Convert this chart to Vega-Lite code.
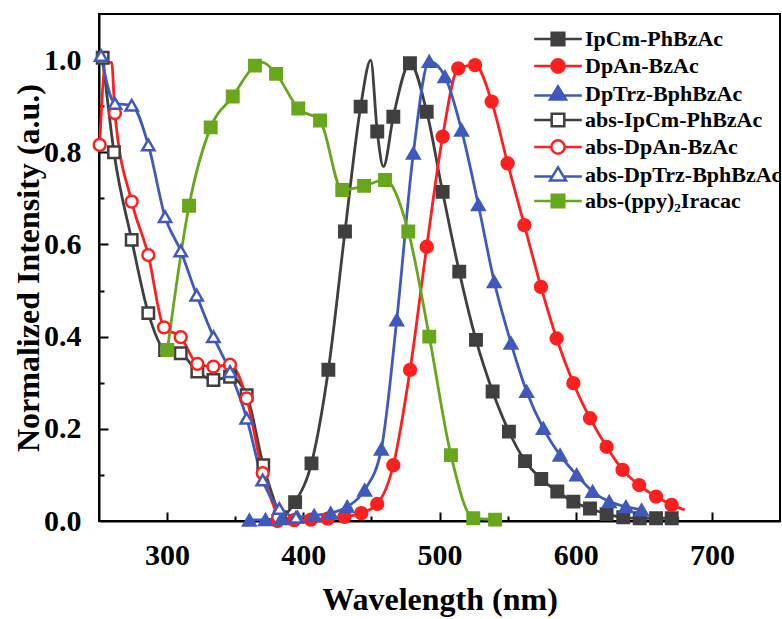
{
  "$schema": "https://vega.github.io/schema/vega-lite/v6.json",
  "width": 681,
  "height": 507,
  "autosize": {"type": "none"},
  "padding": {"left": 99, "top": 14, "right": 2, "bottom": 98},
  "background": "white",
  "config": {
    "font": "Liberation Serif",
    "view": {"stroke": "black", "strokeWidth": 2},
    "axis": {
      "grid": false,
      "domainColor": "black",
      "domainWidth": 2,
      "tickColor": "black",
      "tickWidth": 2,
      "labelFont": "Liberation Serif",
      "labelFontWeight": "bold",
      "labelFontSize": 30,
      "labelColor": "black",
      "titleFont": "Liberation Serif",
      "titleFontWeight": "bold",
      "titleFontSize": 32,
      "titleColor": "black"
    }
  },
  "resolve": {"axis": {"x": "independent", "y": "independent"}},
  "data": {
    "values": [
      {"s": "IpCm-PhBzAc", "x": 385, "y": 0.008, "m": 0},
      {"s": "IpCm-PhBzAc", "x": 394, "y": 0.041, "m": 1},
      {"s": "IpCm-PhBzAc", "x": 406, "y": 0.125, "m": 1},
      {"s": "IpCm-PhBzAc", "x": 418.4, "y": 0.328, "m": 1},
      {"s": "IpCm-PhBzAc", "x": 430.6, "y": 0.628, "m": 1},
      {"s": "IpCm-PhBzAc", "x": 442.1, "y": 0.899, "m": 1},
      {"s": "IpCm-PhBzAc", "x": 449.5, "y": 1.0, "m": 0},
      {"s": "IpCm-PhBzAc", "x": 454.3, "y": 0.845, "m": 1},
      {"s": "IpCm-PhBzAc", "x": 458.8, "y": 0.769, "m": 0},
      {"s": "IpCm-PhBzAc", "x": 466.1, "y": 0.877, "m": 1},
      {"s": "IpCm-PhBzAc", "x": 478.3, "y": 0.993, "m": 1},
      {"s": "IpCm-PhBzAc", "x": 490.6, "y": 0.888, "m": 1},
      {"s": "IpCm-PhBzAc", "x": 502.3, "y": 0.714, "m": 1},
      {"s": "IpCm-PhBzAc", "x": 514.5, "y": 0.541, "m": 1},
      {"s": "IpCm-PhBzAc", "x": 526.8, "y": 0.393, "m": 1},
      {"s": "IpCm-PhBzAc", "x": 539, "y": 0.281, "m": 1},
      {"s": "IpCm-PhBzAc", "x": 551, "y": 0.194, "m": 1},
      {"s": "IpCm-PhBzAc", "x": 562.8, "y": 0.13, "m": 1},
      {"s": "IpCm-PhBzAc", "x": 574.7, "y": 0.091, "m": 1},
      {"s": "IpCm-PhBzAc", "x": 586.5, "y": 0.064, "m": 1},
      {"s": "IpCm-PhBzAc", "x": 598.3, "y": 0.042, "m": 1},
      {"s": "IpCm-PhBzAc", "x": 610.5, "y": 0.027, "m": 1},
      {"s": "IpCm-PhBzAc", "x": 622.7, "y": 0.015, "m": 1},
      {"s": "IpCm-PhBzAc", "x": 634.9, "y": 0.008, "m": 1},
      {"s": "IpCm-PhBzAc", "x": 647, "y": 0.006, "m": 1},
      {"s": "IpCm-PhBzAc", "x": 659, "y": 0.006, "m": 1},
      {"s": "IpCm-PhBzAc", "x": 670.5, "y": 0.006, "m": 1},
      {"s": "IpCm-PhBzAc", "x": 676, "y": 0.005, "m": 0},

      {"s": "DpAn-BzAc", "x": 381, "y": 0.0, "m": 1},
      {"s": "DpAn-BzAc", "x": 393.3, "y": 0.002, "m": 1},
      {"s": "DpAn-BzAc", "x": 405.6, "y": 0.003, "m": 1},
      {"s": "DpAn-BzAc", "x": 417.9, "y": 0.005, "m": 1},
      {"s": "DpAn-BzAc", "x": 430.2, "y": 0.009, "m": 1},
      {"s": "DpAn-BzAc", "x": 442.6, "y": 0.017, "m": 1},
      {"s": "DpAn-BzAc", "x": 454.3, "y": 0.037, "m": 1},
      {"s": "DpAn-BzAc", "x": 466.1, "y": 0.121, "m": 1},
      {"s": "DpAn-BzAc", "x": 478.4, "y": 0.328, "m": 1},
      {"s": "DpAn-BzAc", "x": 490.6, "y": 0.595, "m": 1},
      {"s": "DpAn-BzAc", "x": 502.3, "y": 0.834, "m": 1},
      {"s": "DpAn-BzAc", "x": 513.8, "y": 0.982, "m": 1},
      {"s": "DpAn-BzAc", "x": 526.1, "y": 0.989, "m": 1},
      {"s": "DpAn-BzAc", "x": 538.3, "y": 0.91, "m": 1},
      {"s": "DpAn-BzAc", "x": 550, "y": 0.776, "m": 1},
      {"s": "DpAn-BzAc", "x": 562.3, "y": 0.642, "m": 1},
      {"s": "DpAn-BzAc", "x": 574.5, "y": 0.508, "m": 1},
      {"s": "DpAn-BzAc", "x": 586, "y": 0.396, "m": 1},
      {"s": "DpAn-BzAc", "x": 598.3, "y": 0.299, "m": 1},
      {"s": "DpAn-BzAc", "x": 610.5, "y": 0.223, "m": 1},
      {"s": "DpAn-BzAc", "x": 622.7, "y": 0.161, "m": 1},
      {"s": "DpAn-BzAc", "x": 634.4, "y": 0.111, "m": 1},
      {"s": "DpAn-BzAc", "x": 646.6, "y": 0.078, "m": 1},
      {"s": "DpAn-BzAc", "x": 659, "y": 0.053, "m": 1},
      {"s": "DpAn-BzAc", "x": 670.4, "y": 0.035, "m": 1},
      {"s": "DpAn-BzAc", "x": 680, "y": 0.024, "m": 0},

      {"s": "DpTrz-BphBzAc", "x": 360.4, "y": 0.002, "m": 1},
      {"s": "DpTrz-BphBzAc", "x": 372.2, "y": 0.003, "m": 1},
      {"s": "DpTrz-BphBzAc", "x": 384, "y": 0.005, "m": 1},
      {"s": "DpTrz-BphBzAc", "x": 395.8, "y": 0.008, "m": 1},
      {"s": "DpTrz-BphBzAc", "x": 408, "y": 0.012, "m": 1},
      {"s": "DpTrz-BphBzAc", "x": 420.1, "y": 0.017, "m": 1},
      {"s": "DpTrz-BphBzAc", "x": 432.3, "y": 0.031, "m": 1},
      {"s": "DpTrz-BphBzAc", "x": 445, "y": 0.067, "m": 1},
      {"s": "DpTrz-BphBzAc", "x": 457.3, "y": 0.156, "m": 1},
      {"s": "DpTrz-BphBzAc", "x": 468.6, "y": 0.436, "m": 1},
      {"s": "DpTrz-BphBzAc", "x": 480.8, "y": 0.798, "m": 1},
      {"s": "DpTrz-BphBzAc", "x": 492.5, "y": 0.997, "m": 1},
      {"s": "DpTrz-BphBzAc", "x": 504, "y": 0.964, "m": 1},
      {"s": "DpTrz-BphBzAc", "x": 516.2, "y": 0.848, "m": 1},
      {"s": "DpTrz-BphBzAc", "x": 528.5, "y": 0.686, "m": 1},
      {"s": "DpTrz-BphBzAc", "x": 540.2, "y": 0.519, "m": 1},
      {"s": "DpTrz-BphBzAc", "x": 552.5, "y": 0.386, "m": 1},
      {"s": "DpTrz-BphBzAc", "x": 564, "y": 0.281, "m": 1},
      {"s": "DpTrz-BphBzAc", "x": 576.2, "y": 0.201, "m": 1},
      {"s": "DpTrz-BphBzAc", "x": 588.5, "y": 0.143, "m": 1},
      {"s": "DpTrz-BphBzAc", "x": 600.7, "y": 0.1, "m": 1},
      {"s": "DpTrz-BphBzAc", "x": 612.4, "y": 0.064, "m": 1},
      {"s": "DpTrz-BphBzAc", "x": 624.6, "y": 0.042, "m": 1},
      {"s": "DpTrz-BphBzAc", "x": 636.9, "y": 0.031, "m": 1},
      {"s": "DpTrz-BphBzAc", "x": 648.4, "y": 0.024, "m": 1},

      {"s": "abs-IpCm-PhBzAc", "x": 252.7, "y": 1.005, "m": 1},
      {"s": "abs-IpCm-PhBzAc", "x": 261, "y": 0.8, "m": 1},
      {"s": "abs-IpCm-PhBzAc", "x": 274, "y": 0.61, "m": 1},
      {"s": "abs-IpCm-PhBzAc", "x": 286.2, "y": 0.451, "m": 1},
      {"s": "abs-IpCm-PhBzAc", "x": 298.5, "y": 0.371, "m": 1},
      {"s": "abs-IpCm-PhBzAc", "x": 310, "y": 0.364, "m": 1},
      {"s": "abs-IpCm-PhBzAc", "x": 322.2, "y": 0.324, "m": 1},
      {"s": "abs-IpCm-PhBzAc", "x": 334, "y": 0.306, "m": 1},
      {"s": "abs-IpCm-PhBzAc", "x": 346.2, "y": 0.313, "m": 1},
      {"s": "abs-IpCm-PhBzAc", "x": 358.4, "y": 0.273, "m": 1},
      {"s": "abs-IpCm-PhBzAc", "x": 370.6, "y": 0.121, "m": 1},
      {"s": "abs-IpCm-PhBzAc", "x": 382.8, "y": 0.008, "m": 1},

      {"s": "abs-DpAn-BzAc", "x": 250.5, "y": 0.816, "m": 1},
      {"s": "abs-DpAn-BzAc", "x": 255, "y": 0.995, "m": 0},
      {"s": "abs-DpAn-BzAc", "x": 259.3, "y": 0.995, "m": 0},
      {"s": "abs-DpAn-BzAc", "x": 261.7, "y": 0.885, "m": 1},
      {"s": "abs-DpAn-BzAc", "x": 274, "y": 0.693, "m": 1},
      {"s": "abs-DpAn-BzAc", "x": 286.2, "y": 0.577, "m": 1},
      {"s": "abs-DpAn-BzAc", "x": 297.7, "y": 0.42, "m": 1},
      {"s": "abs-DpAn-BzAc", "x": 310, "y": 0.399, "m": 1},
      {"s": "abs-DpAn-BzAc", "x": 322.2, "y": 0.341, "m": 1},
      {"s": "abs-DpAn-BzAc", "x": 334, "y": 0.335, "m": 1},
      {"s": "abs-DpAn-BzAc", "x": 346.2, "y": 0.339, "m": 1},
      {"s": "abs-DpAn-BzAc", "x": 358.4, "y": 0.266, "m": 1},
      {"s": "abs-DpAn-BzAc", "x": 370.2, "y": 0.104, "m": 1},
      {"s": "abs-DpAn-BzAc", "x": 381.6, "y": 0.008, "m": 1},

      {"s": "abs-DpTrz-BphBzAc", "x": 251.5, "y": 1.01, "m": 1},
      {"s": "abs-DpTrz-BphBzAc", "x": 261.7, "y": 0.906, "m": 1},
      {"s": "abs-DpTrz-BphBzAc", "x": 274, "y": 0.902, "m": 1},
      {"s": "abs-DpTrz-BphBzAc", "x": 286.2, "y": 0.816, "m": 1},
      {"s": "abs-DpTrz-BphBzAc", "x": 298.5, "y": 0.66, "m": 1},
      {"s": "abs-DpTrz-BphBzAc", "x": 310, "y": 0.586, "m": 1},
      {"s": "abs-DpTrz-BphBzAc", "x": 321.7, "y": 0.49, "m": 1},
      {"s": "abs-DpTrz-BphBzAc", "x": 334, "y": 0.4, "m": 1},
      {"s": "abs-DpTrz-BphBzAc", "x": 346.2, "y": 0.324, "m": 1},
      {"s": "abs-DpTrz-BphBzAc", "x": 358.4, "y": 0.223, "m": 1},
      {"s": "abs-DpTrz-BphBzAc", "x": 370.2, "y": 0.089, "m": 1},
      {"s": "abs-DpTrz-BphBzAc", "x": 382.4, "y": 0.027, "m": 1},
      {"s": "abs-DpTrz-BphBzAc", "x": 394.6, "y": 0.008, "m": 1},

      {"s": "abs-(ppy)₂Iracac", "x": 300.2, "y": 0.371, "m": 1},
      {"s": "abs-(ppy)₂Iracac", "x": 316.1, "y": 0.684, "m": 1},
      {"s": "abs-(ppy)₂Iracac", "x": 332, "y": 0.854, "m": 1},
      {"s": "abs-(ppy)₂Iracac", "x": 348.2, "y": 0.921, "m": 1},
      {"s": "abs-(ppy)₂Iracac", "x": 364.5, "y": 0.988, "m": 1},
      {"s": "abs-(ppy)₂Iracac", "x": 370, "y": 0.995, "m": 0},
      {"s": "abs-(ppy)₂Iracac", "x": 380, "y": 0.97, "m": 1},
      {"s": "abs-(ppy)₂Iracac", "x": 396.3, "y": 0.895, "m": 1},
      {"s": "abs-(ppy)₂Iracac", "x": 412.3, "y": 0.869, "m": 1},
      {"s": "abs-(ppy)₂Iracac", "x": 428.6, "y": 0.718, "m": 1},
      {"s": "abs-(ppy)₂Iracac", "x": 444.6, "y": 0.727, "m": 1},
      {"s": "abs-(ppy)₂Iracac", "x": 460, "y": 0.74, "m": 1},
      {"s": "abs-(ppy)₂Iracac", "x": 477.1, "y": 0.628, "m": 1},
      {"s": "abs-(ppy)₂Iracac", "x": 492.5, "y": 0.4, "m": 1},
      {"s": "abs-(ppy)₂Iracac", "x": 508.4, "y": 0.143, "m": 1},
      {"s": "abs-(ppy)₂Iracac", "x": 524.8, "y": 0.006, "m": 1},
      {"s": "abs-(ppy)₂Iracac", "x": 540.8, "y": 0.003, "m": 1}
    ]
  },
  "encoding": {
    "color": {
      "field": "s",
      "type": "nominal",
      "scale": {
        "domain": ["IpCm-PhBzAc", "DpAn-BzAc", "DpTrz-BphBzAc", "abs-IpCm-PhBzAc", "abs-DpAn-BzAc", "abs-DpTrz-BphBzAc", "abs-(ppy)₂Iracac"],
        "range": ["#3f3f3f", "#ff1f1f", "#4059bd", "#3f3f3f", "#ff1f1f", "#4059bd", "#68a61c"]
      },
      "legend": {
        "title": null,
        "orient": "none",
        "legendX": 448,
        "legendY": 14,
        "padding": 0,
        "labelFont": "Liberation Serif",
        "labelFontWeight": "bold",
        "labelFontSize": 22,
        "labelColor": "black",
        "labelLimit": 400,
        "labelOffset": 16,
        "symbolSize": 196,
        "symbolStrokeWidth": 2.5,
        "rowPadding": 3,
        "encode": {
          "symbols": {
            "update": {
              "shape": {"signal": "(datum.value === 'IpCm-PhBzAc' || datum.value === 'abs-(ppy)₂Iracac') ? 'M-3.4,0H3.4M-0.9,-0.9H0.9V0.9H-0.9Z' : datum.value === 'abs-IpCm-PhBzAc' ? 'M-3.4,0H-0.9M0.9,0H3.4M-0.9,-0.9H0.9V0.9H-0.9Z' : datum.value === 'DpAn-BzAc' ? 'M-3.4,0H3.4M0.95,0A0.95,0.95,0,1,1,-0.95,0A0.95,0.95,0,1,1,0.95,0Z' : datum.value === 'abs-DpAn-BzAc' ? 'M-3.4,0H-0.95M0.95,0H3.4M0.95,0A0.95,0.95,0,1,1,-0.95,0A0.95,0.95,0,1,1,0.95,0Z' : datum.value === 'DpTrz-BphBzAc' ? 'M-3.4,0.2H3.4M0,-1.1L1.15,0.8H-1.15Z' : 'M-3.4,0.2H-0.78M0.78,0.2H3.4M0,-1.1L1.15,0.8H-1.15Z'"},
              "fill": {"signal": "indexof(['abs-IpCm-PhBzAc', 'abs-DpAn-BzAc', 'abs-DpTrz-BphBzAc'], datum.value) >= 0 ? 'white' : scale('color', datum.value)"},
              "stroke": {"signal": "scale('color', datum.value)"},
              "strokeWidth": {"value": 2.5},
              "opacity": {"value": 1},
              "fillOpacity": {"value": 1},
              "strokeOpacity": {"value": 1}
            }
          }
        }
      }
    }
  },
  "layer": [
    {
      "mark": {"type": "line", "interpolate": "monotone", "strokeWidth": 2.8},
      "encoding": {
        "x": {
          "field": "x",
          "type": "quantitative",
          "title": "Wavelength (nm)",
          "scale": {"domain": [250, 750], "nice": false, "zero": false},
          "axis": {
            "orient": "bottom",
            "values": [300, 400, 500, 600, 700],
            "ticks": false,
            "labelPadding": 19,
            "titlePadding": 14
          }
        },
        "y": {
          "field": "y",
          "type": "quantitative",
          "title": "Normalized Intensity (a.u.)",
          "scale": {"domain": [0, 1.1], "nice": false},
          "axis": {
            "orient": "left",
            "values": [0, 0.2, 0.4, 0.6, 0.8, 1.0],
            "format": ".1f",
            "ticks": false,
            "labelPadding": 18,
            "titlePadding": -2
          }
        }
      }
    },
    {
      "transform": [{"filter": "datum.m === 1 && (datum.s === 'IpCm-PhBzAc' || datum.s === 'abs-IpCm-PhBzAc' || datum.s === 'abs-(ppy)₂Iracac')"}],
      "mark": {"type": "point", "shape": "square", "filled": false, "opacity": 1, "strokeWidth": 2.5, "size": 130},
      "encoding": {
        "x": {
          "field": "x",
          "type": "quantitative",
          "scale": {"domain": [250, 750], "nice": false, "zero": false},
          "axis": {"orient": "bottom", "values": [300, 400, 500, 600, 700], "offset": -9, "tickSize": 9, "tickWidth": 2, "tickColor": "black", "labels": false, "domain": false, "title": null}
        },
        "y": {
          "field": "y",
          "type": "quantitative",
          "scale": {"domain": [0, 1.1], "nice": false},
          "axis": {"orient": "left", "values": [0.2, 0.4, 0.6, 0.8, 1.0], "offset": -9, "tickSize": 9, "tickWidth": 2, "tickColor": "black", "labels": false, "domain": false, "title": null}
        },
        "fill": {
          "field": "s",
          "type": "nominal",
          "scale": {
            "domain": ["IpCm-PhBzAc", "DpAn-BzAc", "DpTrz-BphBzAc", "abs-IpCm-PhBzAc", "abs-DpAn-BzAc", "abs-DpTrz-BphBzAc", "abs-(ppy)₂Iracac"],
            "range": ["#3f3f3f", "#ff1f1f", "#4059bd", "white", "white", "white", "#68a61c"]
          },
          "legend": null
        }
      }
    },
    {
      "transform": [{"filter": "datum.m === 1 && (datum.s === 'DpAn-BzAc' || datum.s === 'abs-DpAn-BzAc')"}],
      "mark": {"type": "point", "shape": "circle", "filled": false, "opacity": 1, "strokeWidth": 2.5, "size": 140},
      "encoding": {
        "x": {
          "field": "x",
          "type": "quantitative",
          "scale": {"domain": [250, 750], "nice": false, "zero": false},
          "axis": {"orient": "bottom", "values": [350, 450, 550, 650], "offset": -5, "tickSize": 5, "tickWidth": 2, "tickColor": "black", "labels": false, "domain": false, "title": null}
        },
        "y": {
          "field": "y",
          "type": "quantitative",
          "scale": {"domain": [0, 1.1], "nice": false},
          "axis": {"orient": "left", "values": [0.1, 0.3, 0.5, 0.7, 0.9], "offset": -5, "tickSize": 5, "tickWidth": 2, "tickColor": "black", "labels": false, "domain": false, "title": null}
        },
        "fill": {"field": "s", "type": "nominal", "legend": null}
      }
    },
    {
      "transform": [{"filter": "datum.m === 1 && (datum.s === 'DpTrz-BphBzAc' || datum.s === 'abs-DpTrz-BphBzAc')"}],
      "mark": {"type": "point", "shape": "triangle-up", "filled": false, "opacity": 1, "strokeWidth": 2.5, "size": 150},
      "encoding": {
        "x": {
          "field": "x",
          "type": "quantitative",
          "scale": {"domain": [250, 750], "nice": false, "zero": false},
          "axis": null
        },
        "y": {
          "field": "y",
          "type": "quantitative",
          "scale": {"domain": [0, 1.1], "nice": false},
          "axis": null
        },
        "fill": {"field": "s", "type": "nominal", "legend": null}
      }
    }
  ]
}
